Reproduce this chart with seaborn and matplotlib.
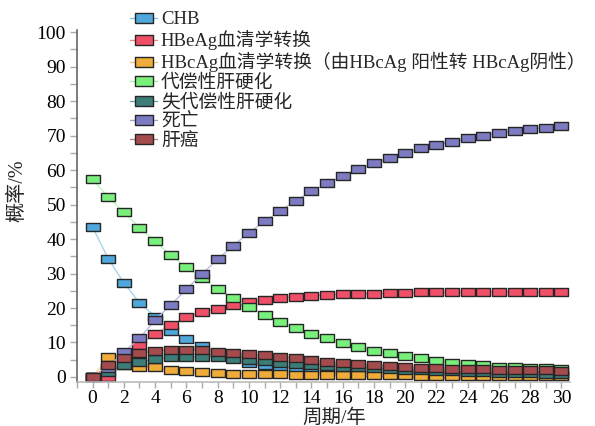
import numpy as np
import seaborn as sns
import matplotlib.pyplot as plt
from matplotlib.lines import Line2D
from matplotlib.ticker import MultipleLocator
from matplotlib.colors import to_rgb

years = list(range(31))

chb = [43.4, 34.3, 27.3, 21.5, 17.5, 13.3, 10.9, 8.9, 7.0, 5.5, 4.2, 3.4, 2.8, 2.4, 2.0, 1.7,
       1.5, 1.3, 1.1, 0.9, 0.8, 0.7, 0.6, 0.5, 0.4, 0.35, 0.3, 0.25, 0.2, 0.2, 0.15]
hbeag = [0, 0, 5.1, 9.3, 12.5, 15.1, 17.3, 18.9, 19.8, 20.9, 21.8, 22.3, 22.8, 23.3, 23.6, 23.8,
         24.0, 24.1, 24.2, 24.3, 24.4, 24.5, 24.5, 24.5, 24.5, 24.6, 24.6, 24.6, 24.6, 24.6, 24.6]
hbcag = [0, 5.7, 3.6, 3.0, 2.8, 2.0, 1.7, 1.4, 1.1, 1.0, 0.9, 0.8, 0.8, 0.7, 0.7, 0.7,
         0.6, 0.6, 0.6, 0.5, 0.5, 0.4, 0.4, 0.4, 0.3, 0.3, 0.3, 0.2, 0.2, 0.2, 0.2]
comp = [57.3, 52.2, 47.7, 43.3, 39.3, 35.3, 31.8, 28.6, 25.6, 22.8, 20.3, 18.0, 16.0, 14.1, 12.5, 11.2,
        9.8, 8.8, 7.6, 6.9, 6.2, 5.4, 4.7, 4.1, 3.8, 3.4, 3.0, 2.8, 2.6, 2.5, 2.3]
decomp = [0, 1.5, 3.6, 4.4, 5.1, 5.7, 5.9, 5.9, 5.8, 5.1, 4.8, 4.5, 4.2, 3.9, 3.6, 3.3,
          3.0, 2.8, 2.5, 2.3, 2.1, 1.9, 1.8, 1.6, 1.5, 1.4, 1.3, 1.2, 1.1, 1.0, 1.0]
death = [0, 2.7, 7.3, 11.2, 16.5, 20.9, 25.4, 29.9, 34.1, 38.1, 41.8, 45.1, 48.2, 51.1, 53.9, 56.1,
         58.3, 60.2, 61.9, 63.6, 65.0, 66.3, 67.2, 68.2, 69.2, 69.9, 70.8, 71.3, 71.9, 72.3, 72.9]
hcc = [0, 3.5, 5.5, 6.9, 7.6, 7.8, 7.8, 7.8, 7.3, 6.9, 6.6, 6.3, 5.9, 5.4, 4.9, 4.4,
       4.1, 3.7, 3.5, 3.1, 2.9, 2.7, 2.5, 2.4, 2.3, 2.2, 2.1, 2.0, 1.9, 1.9, 1.8]

labels = ['CHB', 'HBeAg血清学转换', 'HBcAg血清学转换（由HBcAg 阳性转 HBcAg阴性）',
          '代偿性肝硬化', '失代偿性肝硬化', '死亡', '肝癌']
series = [chb, hbeag, hbcag, comp, decomp, death, hcc]
colors = ['#4fa7dc', '#ef5068', '#efac3a', '#7af07c', '#3d7d77', '#7d7bc2', '#a44b4e']

sns.set_style('white')
plt.rcParams['font.family'] = ['Liberation Serif', 'Noto Sans CJK SC']

# wide rectangle marker
rect = [(-1, -0.6), (1, -0.6), (1, 0.6), (-1, 0.6), (-1, -0.6)]

def lighten(c, f=0.5):
    r, g, b = to_rgb(c)
    return (r + (1 - r) * f, g + (1 - g) * f, b + (1 - b) * f)

fig = plt.figure(figsize=(5.95, 4.26), dpi=100)
ax = fig.add_axes([0.1294, 0.1033, 0.8286, 0.8263])

for vals, col in zip(series, colors):
    sns.lineplot(x=years, y=vals, ax=ax, color=lighten(col), linewidth=1.0,
                 marker=rect, markersize=10, markerfacecolor=col,
                 markeredgecolor='#262626', markeredgewidth=1.0, legend=False)

ax.set_xlim(-1.0, 30.55)
ax.set_ylim(-1.45, 100.6)
ax.xaxis.set_major_locator(MultipleLocator(2))
ax.xaxis.set_minor_locator(MultipleLocator(1))
ax.yaxis.set_major_locator(MultipleLocator(10))
ax.yaxis.set_minor_locator(MultipleLocator(5))
ax.tick_params(axis='both', which='both', direction='out', colors='#aaaaaa',
               labelcolor='black', labelsize=14)
ax.tick_params(axis='y', which='both', length=5, width=1, pad=3)
ax.tick_params(axis='x', which='both', length=4, width=1, pad=2)
ax.tick_params(bottom=True, left=True, which='both')

for s in ['top', 'right']:
    ax.spines[s].set_visible(False)
ax.spines['left'].set_color('#666666')
ax.spines['bottom'].set_color('#bbbbbb')
ax.spines['left'].set_linewidth(1.2)
ax.spines['bottom'].set_linewidth(1.2)

ax.set_xlabel('周期/年', fontsize=14)
ax.set_ylabel('概率/%', fontsize=14.5)
ax.xaxis.set_label_coords(0.521, -0.074)
ax.yaxis.set_label_coords(-0.1, 0.543)

handles = [Line2D([0], [0], color=lighten(c, 0.3), linewidth=1.0, marker=rect, markersize=13,
                  markerfacecolor=c, markeredgecolor='#262626', markeredgewidth=1.0)
           for c in colors]
fig.legend(handles, labels, loc='upper left', bbox_to_anchor=(130 / 595, 1 - 11 / 426),
           frameon=False, fontsize=13.5, borderpad=0, borderaxespad=0,
           handlelength=1.45, handletextpad=0.2, labelspacing=0.1)

fig.savefig('out.png', dpi=100)
